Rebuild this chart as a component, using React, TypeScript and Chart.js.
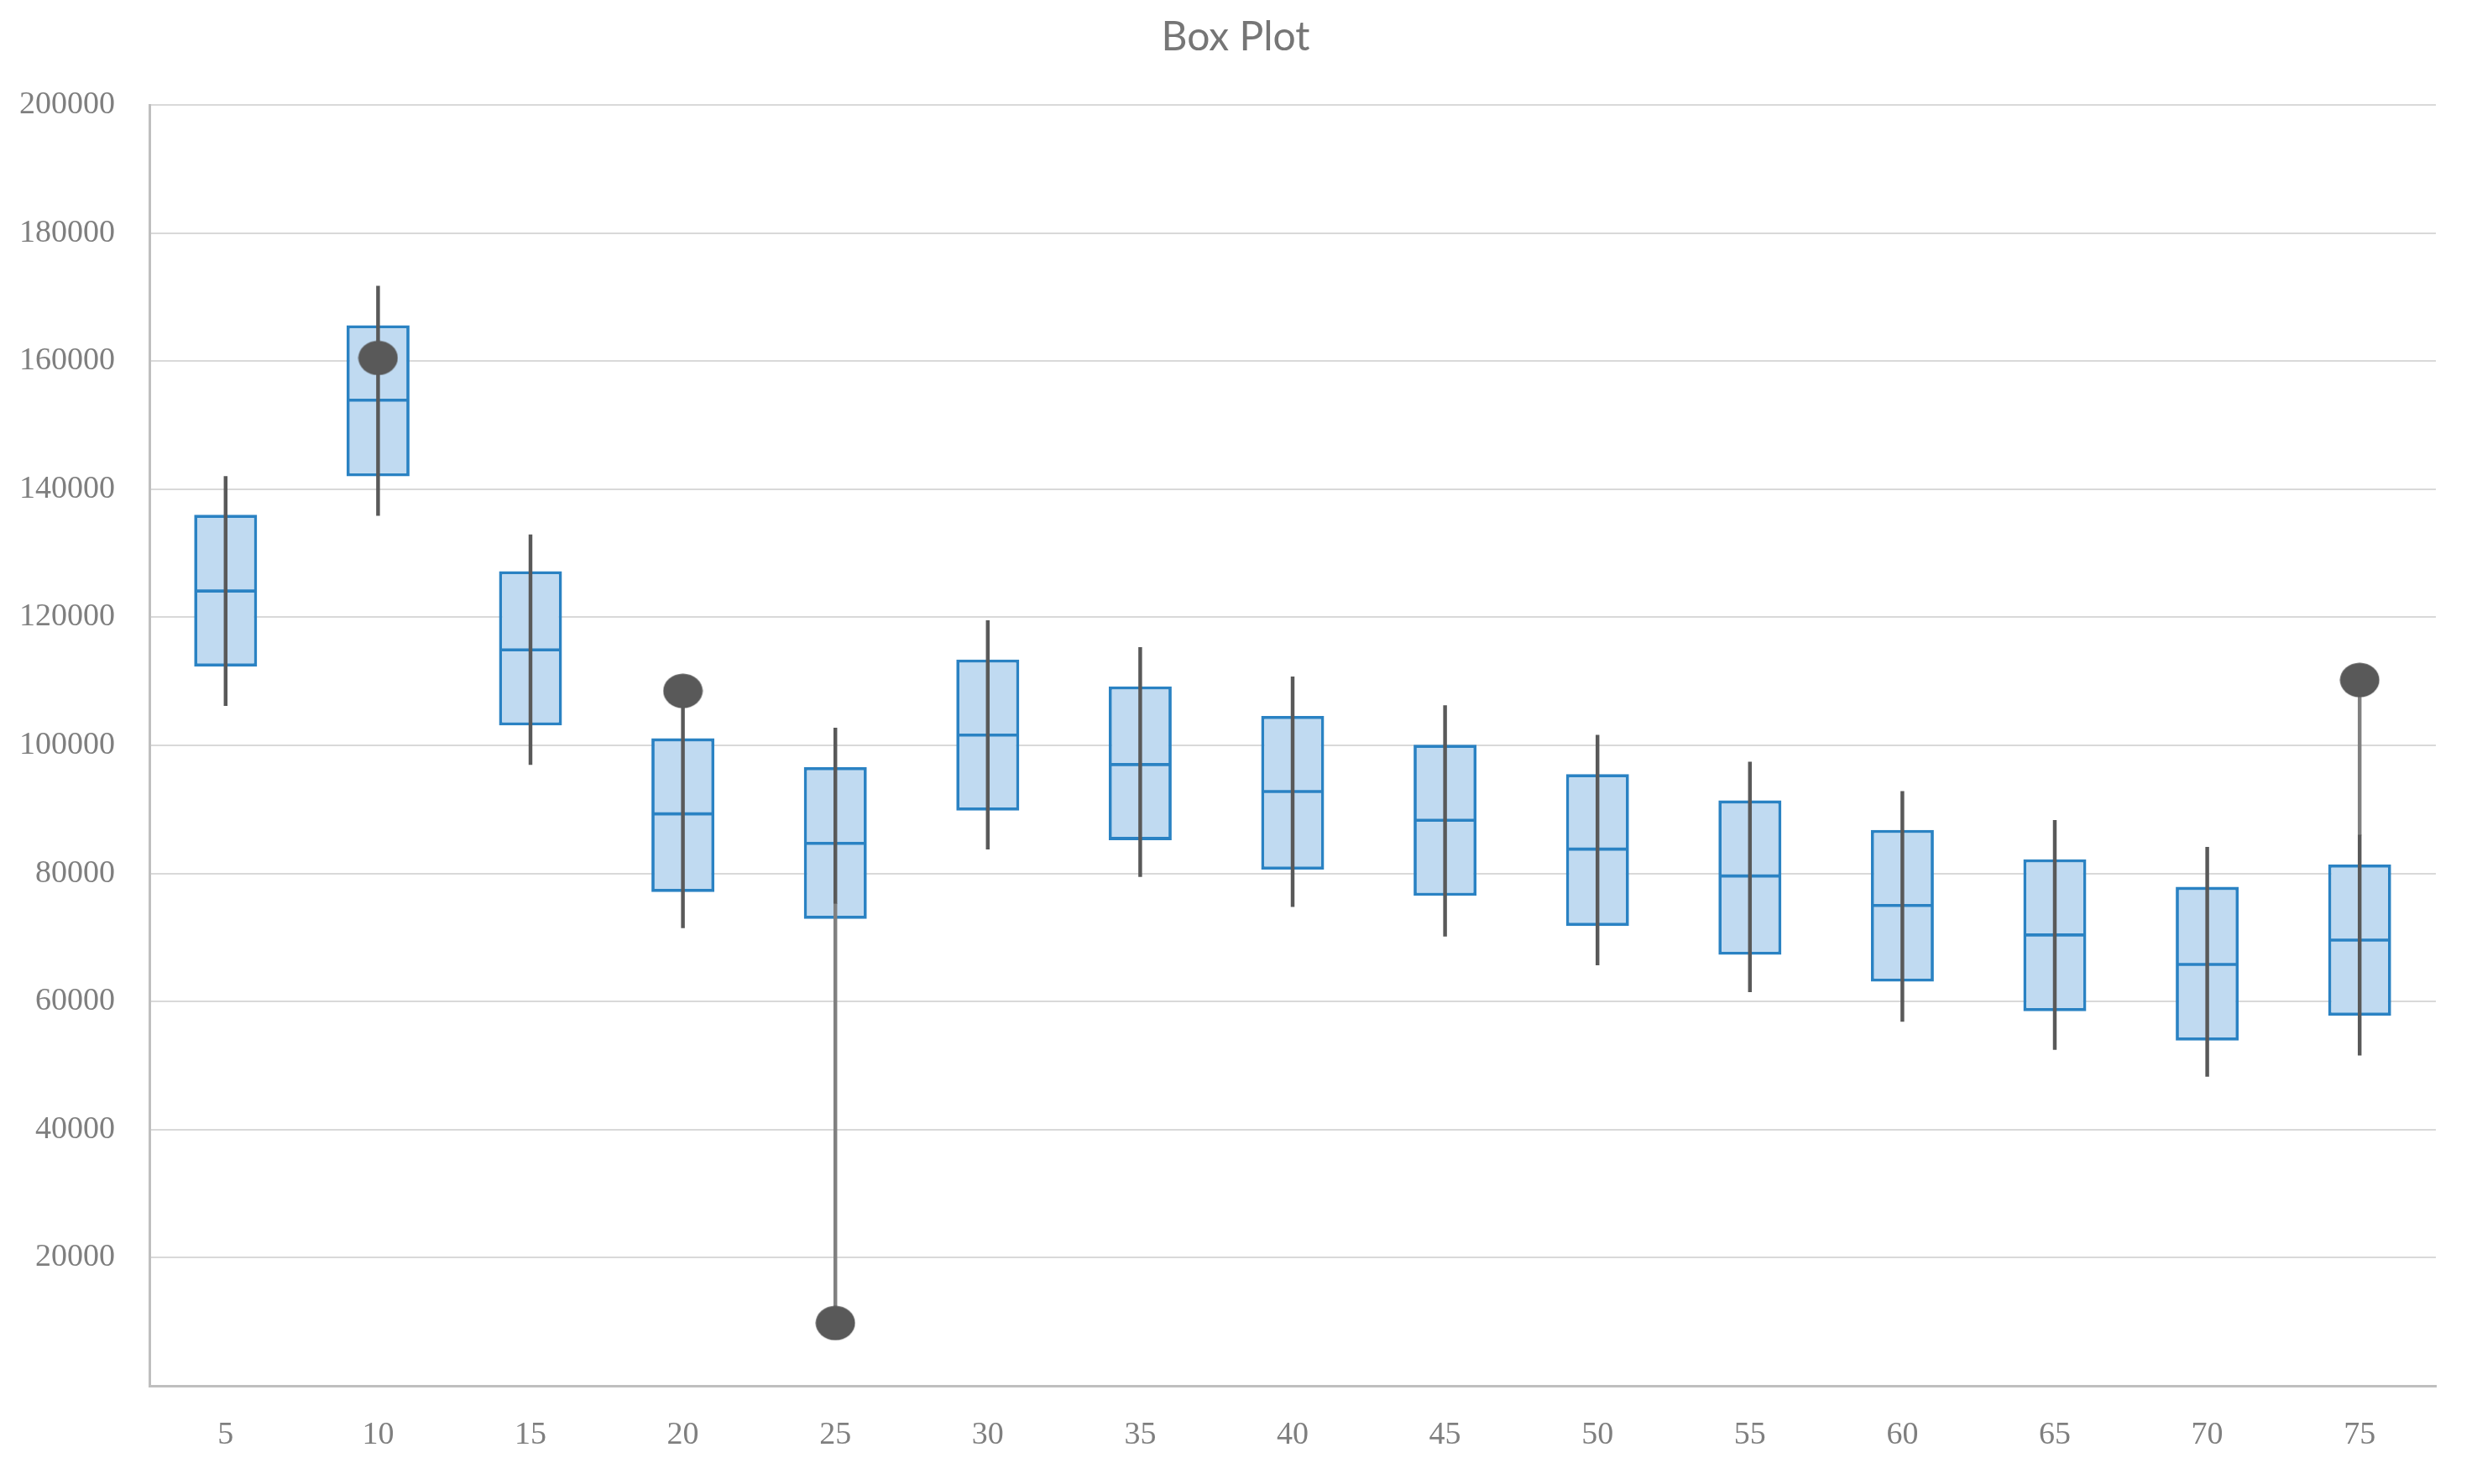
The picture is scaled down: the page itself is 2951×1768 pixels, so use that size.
import React, { useEffect, useRef } from "react";
import { Chart, registerables } from "chart.js";

Chart.register(...registerables);

const categories = ["5", "10", "15", "20", "25", "30", "35", "40", "45", "50", "55", "60", "65", "70", "75"];
const whiskerLow = [106200, 135900, 97000, 71500, 75300, 83800, 79500, 74800, 70200, 65700, 61500, 56900, 52500, 48300, 51600];
const q1 = [112300, 142000, 103100, 77100, 72900, 89800, 85200, 80600, 76500, 71800, 67300, 63100, 58500, 53900, 57800];
const median = [124100, 153900, 114900, 89300, 84700, 101600, 97000, 92800, 88300, 83800, 79600, 75000, 70400, 65800, 69600];
const q3 = [136000, 165600, 127200, 101100, 96600, 113400, 109200, 104600, 100100, 95500, 91400, 86800, 82200, 77900, 81400];
const whiskerHigh = [142000, 171700, 132900, 106500, 102700, 119500, 115300, 110700, 106200, 101600, 97400, 92800, 88300, 84100, 86000];
const outliers: (number | null)[] = [null, 160500, null, 108500, 9800, null, null, null, null, null, null, null, null, null, 110200];
const yTicksMin = 0;
const yTicksMax = 200000;
const yTickStep = 20000;
const titleText = "Box Plot";

function makeEllipse(): HTMLCanvasElement {
  const c = document.createElement("canvas");
  c.width = 48;
  c.height = 42;
  const ctx = c.getContext("2d")!;
  ctx.fillStyle = "#595959";
  ctx.beginPath();
  ctx.ellipse(24, 21, 23.5, 20.5, 0, 0, Math.PI * 2);
  ctx.fill();
  return c;
}

const titlePlugin = {
  id: "boxTitle",
  afterDraw(chart: any) {
    const ctx = chart.ctx;
    ctx.save();
    ctx.fillStyle = "#767676";
    ctx.font = "normal 48px Lato, 'Open Sans', sans-serif";
    ctx.textAlign = "center";
    ctx.textBaseline = "middle";
    ctx.fillText(titleText, 1472, 45);
    ctx.restore();
  },
};

export default function App() {
  const ref = useRef<HTMLCanvasElement | null>(null);

  useEffect(() => {
    if (!ref.current) return;
    const ellipse = makeEllipse();
    const connectors = outliers.map((o, i) => {
      if (o === null) return null;
      if (o > whiskerHigh[i]) return [whiskerHigh[i], o];
      if (o < whiskerLow[i]) return [o, whiskerLow[i]];
      return null;
    });
    const labelFont = { family: "'Liberation Serif', serif", size: 38 };
    const chart = new Chart(ref.current, {
      type: "bar",
      data: {
        labels: categories,
        datasets: [
          {
            type: "line",
            label: "Outliers",
            data: outliers,
            showLine: false,
            pointStyle: ellipse,
            pointRadius: 21,
            pointHoverRadius: 21,
            order: 0,
          } as any,
          {
            type: "bar",
            label: "Whisker",
            data: categories.map((_, i) => [whiskerLow[i], whiskerHigh[i]]),
            backgroundColor: "#595959",
            borderWidth: 0,
            barThickness: 3.8,
            grouped: false,
            order: 1,
          } as any,
          {
            type: "bar",
            label: "Connector",
            data: connectors,
            backgroundColor: "#808080",
            borderWidth: 0,
            barThickness: 3.8,
            grouped: false,
            order: 1.5,
          } as any,
          {
            type: "line",
            label: "Median",
            data: median,
            showLine: false,
            pointStyle: "line",
            pointRadius: 35,
            pointHoverRadius: 35,
            pointBorderWidth: 3.6,
            pointHoverBorderWidth: 3.6,
            pointBorderColor: "#2A82C3",
            pointBackgroundColor: "#2A82C3",
            order: 2,
          } as any,
          {
            type: "bar",
            label: "Box",
            data: categories.map((_, i) => [q1[i], q3[i]]),
            backgroundColor: "#C0DAF1",
            borderColor: "#2A82C3",
            borderWidth: 3.8,
            borderSkipped: false,
            barPercentage: 0.413,
            categoryPercentage: 1,
            grouped: false,
            order: 3,
          } as any,
        ],
      },
      options: {
        animation: false,
        responsive: false,
        layout: { padding: { left: 0, right: 49, top: 125, bottom: 0 } },
        plugins: {
          legend: { display: false },
          tooltip: { enabled: false },
          title: { display: false },
        },
        scales: {
          x: {
            offset: true,
            grid: { display: false, drawTicks: false },
            border: { display: true, color: "#BFBFBF", width: 3 },
            ticks: { color: "#7F7F7F", font: labelFont, padding: 36, maxRotation: 0 },
            afterFit: (scale: any) => {
              scale.height = 117;
            },
          },
          y: {
            min: yTicksMin,
            max: yTicksMax,
            grid: { color: "#D9D9D9", lineWidth: 2, drawTicks: false },
            border: { display: true, color: "#BFBFBF", width: 3 },
            ticks: {
              stepSize: yTickStep,
              color: "#7F7F7F",
              font: labelFont,
              padding: 41,
              callback: (v: any) => (Number(v) === 0 ? "" : String(v)),
            },
            afterFit: (scale: any) => {
              scale.width = 178;
            },
          },
        },
      } as any,
      plugins: [titlePlugin],
    });
    return () => chart.destroy();
  }, []);

  return (
    <div style={{ position: "fixed", left: 0, top: 0, width: 2951, height: 1768, background: "#ffffff" }}>
      <canvas ref={ref} width={2951} height={1768} style={{ display: "block", width: 2951, height: 1768 }} />
    </div>
  );
}
